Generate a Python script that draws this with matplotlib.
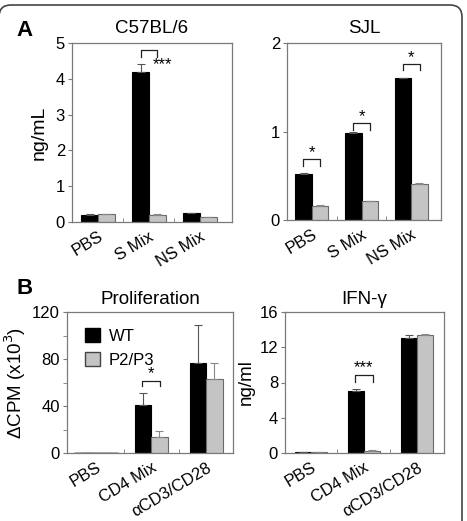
import matplotlib.pyplot as plt
import matplotlib.transforms as mtransforms
from matplotlib.patches import FancyBboxPatch
import numpy as np

plt.rcParams['font.family'] = ['Liberation Sans', 'DejaVu Sans']

# panel A data
cats_a = ['PBS', 'S Mix', 'NS Mix']
c57_wt = [0.20, 4.20, 0.25]
c57_wt_err = [0.01, 0.22, 0.01]
c57_p = [0.21, 0.20, 0.13]
c57_p_err = [0.02, 0.01, 0.02]

sjl_wt = [0.52, 0.98, 1.60]
sjl_wt_err = [0.01, 0.01, 0.01]
sjl_p = [0.16, 0.21, 0.41]
sjl_p_err = [0.005, 0.005, 0.01]

# panel B data
cats_b = ['PBS', 'CD4 Mix', 'αCD3/CD28']
prol_wt = [0, 41, 77]
prol_wt_err = [0, 10, 32]
prol_p = [0, 14, 63]
prol_p_err = [0, 5, 14]

ifn_wt = [0.10, 7.0, 13.1]
ifn_wt_err = [0.05, 0.3, 0.25]
ifn_p = [0.10, 0.25, 13.4]
ifn_p_err = [0.02, 0.05, 0.05]

BLACK = '#000000'
GREY = '#c4c4c4'
SPINE = '#7a7a7a'

W, H = 467, 521
fig = plt.figure(figsize=(W / 100, H / 100), dpi=100)


def px_axes(x0, y0, x1, y1):
    return fig.add_axes([x0 / W, 1 - y1 / H, (x1 - x0) / W, (y1 - y0) / H])


def bars(ax, wt, wt_err, p, p_err, width, xlim, ylim, yticks, labels, minor_y=None):
    x = np.arange(len(wt))
    ax.bar(x - width / 2, wt, width, color=BLACK, edgecolor=BLACK, linewidth=0.8,
           yerr=[np.zeros(len(wt)), wt_err], error_kw=dict(ecolor='#555555', elinewidth=0.8, capsize=3, capthick=0.8))
    ax.bar(x + width / 2, p, width, color=GREY, edgecolor='#6a6a6a', linewidth=0.8,
           yerr=[np.zeros(len(p)), p_err], error_kw=dict(ecolor='#888888', elinewidth=0.8, capsize=3, capthick=0.8))
    ax.set_xlim(*xlim)
    ax.set_ylim(*ylim)
    ax.set_yticks(yticks)
    if minor_y is not None:
        ax.set_yticks(minor_y, minor=True)
    ax.set_xticks(x)
    ax.set_xticks(x[:-1] + 0.5, minor=True)
    ax.set_xticklabels(labels, rotation=31, ha='right', rotation_mode='anchor', fontsize=12)
    off = mtransforms.ScaledTranslation(0.12, 0, fig.dpi_scale_trans)
    for lab in ax.get_xticklabels():
        lab.set_transform(lab.get_transform() + off)
    ax.tick_params(axis='x', which='major', length=0, pad=5)
    ax.tick_params(axis='x', which='minor', length=3, color=SPINE, direction='in')
    ax.tick_params(axis='y', which='both', length=3, color=SPINE, labelsize=12, pad=2)
    for s in ax.spines.values():
        s.set_color(SPINE)
        s.set_linewidth(0.9)


def bracket(ax, xc, y_top, y_leg, star, sx, sy, half=0.17):
    ax.plot([xc - half, xc - half, xc + half, xc + half], [y_leg, y_top, y_top, y_leg],
            color='#222222', lw=0.9)
    ax.text(sx, sy, star, ha='center', va='center', fontsize=12)


# A left
ax1 = px_axes(72, 43, 232, 222)
bars(ax1, c57_wt, c57_wt_err, c57_p, c57_p_err, 0.33, (-0.51, 2.63), (0, 5), [0, 1, 2, 3, 4, 5], cats_a)
ax1.set_ylabel('ng/mL', fontsize=14, labelpad=6)
ax1.set_title('C57BL/6', fontsize=13.5, pad=7)
bracket(ax1, 1.0, 4.8, 4.6, '***', 1.26, 4.4, half=0.16)

# A right
ax2 = px_axes(287, 43, 441, 220)
bars(ax2, sjl_wt, sjl_wt_err, sjl_p, sjl_p_err, 0.33, (-0.5, 2.6), (0, 2), [0, 1, 2], cats_a)
ax2.set_title('SJL', fontsize=13.5, pad=7)
bracket(ax2, 0, 0.69, 0.61, '*', 0, 0.76)
bracket(ax2, 1, 1.10, 1.02, '*', 1, 1.17)
bracket(ax2, 2, 1.76, 1.69, '*', 2, 1.83)

# B left
ax3 = px_axes(67, 312, 233, 453)
bars(ax3, prol_wt, prol_wt_err, prol_p, prol_p_err, 0.3, (-0.53, 2.49), (0, 120), [0, 40, 80, 120], cats_b,
     minor_y=[20, 60, 100])
ax3.set_ylabel('ΔCPM (x10$^3$)', fontsize=13.5, labelpad=3)
ax3.set_title('Proliferation', fontsize=13.5, pad=6)
bracket(ax3, 1, 61.5, 57, '*', 1, 67.5, half=0.16)
ax3.bar([0], [0], color=BLACK, edgecolor=BLACK, label='WT')
ax3.bar([0], [0], color=GREY, edgecolor='#444444', label='P2/P3')
ax3.legend(loc='upper left', frameon=False, fontsize=12, handlelength=0.9, handleheight=0.9,
           handletextpad=0.5, labelspacing=0.5, borderaxespad=0.3, bbox_to_anchor=(0.04, 0.97))

# B right
ax4 = px_axes(285, 312, 444, 453)
bars(ax4, ifn_wt, ifn_wt_err, ifn_p, ifn_p_err, 0.3, (-0.49, 2.51), (0, 16), [0, 4, 8, 12, 16], cats_b)
ax4.set_ylabel('ng/ml', fontsize=13.5, labelpad=3)
ax4.set_title('IFN-γ', fontsize=13.5, pad=6)
bracket(ax4, 1, 8.85, 8.1, '***', 1, 9.7)

# panel letters
fig.text(16 / W, 1 - 30 / H, 'A', fontsize=16, fontweight='bold', va='center')
fig.text(16 / W, 1 - 289 / H, 'B', fontsize=16, fontweight='bold', va='center')

# rounded border
bg = fig.add_axes([0, 0, 1, 1], zorder=-1)
bg.set_xlim(0, W)
bg.set_ylim(H, 0)
bg.axis('off')
bg.add_patch(FancyBboxPatch((-1, 5), 463, 530, boxstyle='round,pad=0,rounding_size=12',
                            fill=False, edgecolor='#444444', lw=1.2))

fig.savefig('out.png', dpi=100)
